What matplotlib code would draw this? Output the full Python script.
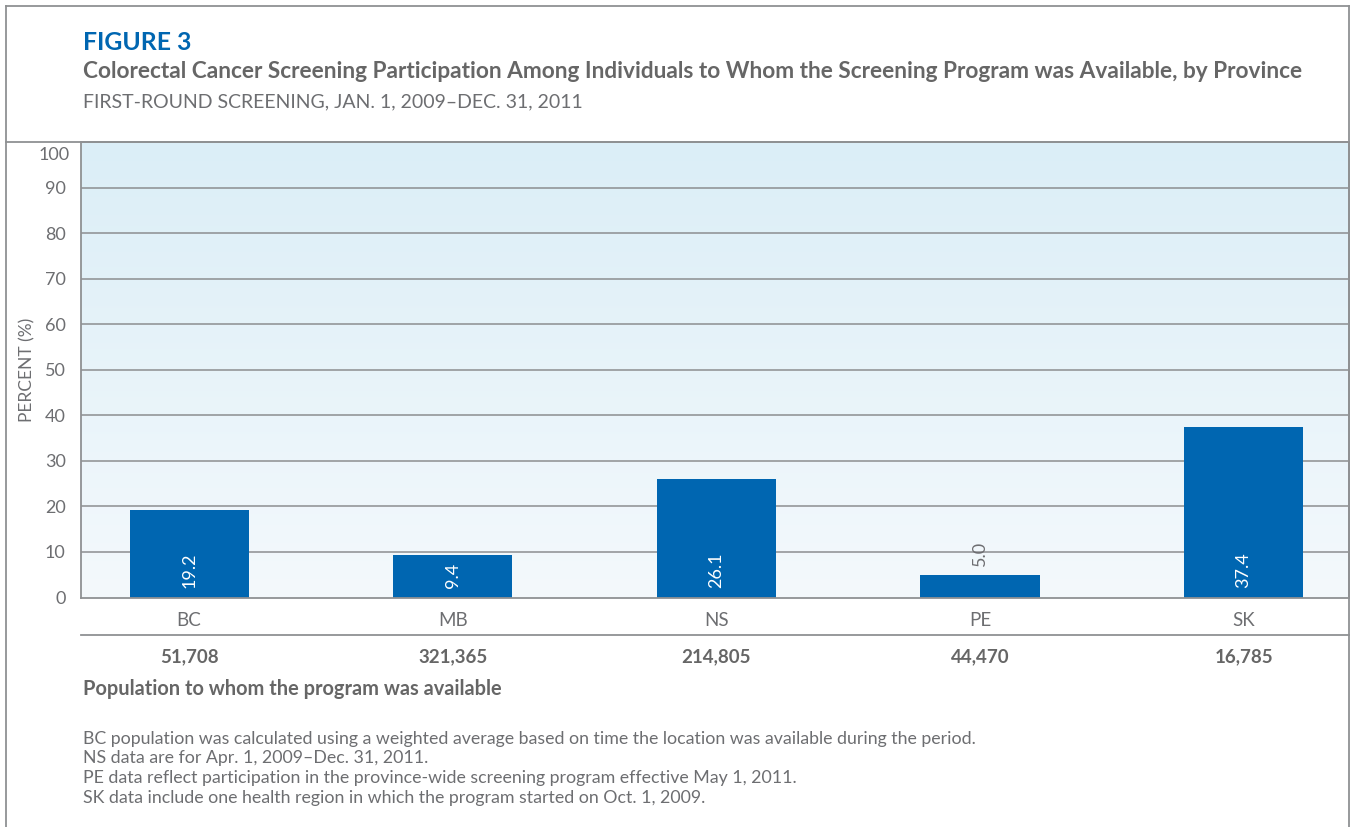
import numpy as np
import matplotlib.pyplot as plt
from matplotlib.lines import Line2D

# 資料
provinces = ['BC', 'MB', 'NS', 'PE', 'SK']
participation = [19.2, 9.4, 26.1, 5.0, 37.4]
population = ['51,708', '321,365', '214,805', '44,470', '16,785']
y_ticks = [0, 10, 20, 30, 40, 50, 60, 70, 80, 90, 100]
notes = [
    'BC population was calculated using a weighted average based on time the location was available during the period.',
    'NS data are for Apr. 1, 2009\u2013Dec. 31, 2011.',
    'PE data reflect participation in the province-wide screening program effective May 1, 2011.',
    'SK data include one health region in which the program started on Oct. 1, 2009.',
]

W, H = 1351, 827
plt.rcParams['font.family'] = ['Lato', 'DejaVu Sans']

BLUE = '#0066b1'
GRAY = '#6d6e71'
LINE = '#8f9193'


def fx(x):
    return x / W


def fy(y):
    return 1 - y / H


fig = plt.figure(figsize=(W / 100, H / 100), dpi=100)

# 外框與分隔線
for xs, ys in [((6, 6), (6, H)), ((6, 1349), (6, 6)), ((1349, 1349), (6, H)),
               ((6, 1349), (142, 142)), ((81, 1349), (635, 635))]:
    fig.add_artist(Line2D([fx(x) for x in xs], [fy(y) for y in ys],
                          color=LINE, lw=1.3))

# 標題
fig.text(fx(83), fy(42), 'FIGURE 3', color=BLUE, fontsize=17.8, fontweight='bold', va='center')
fig.text(fx(83), fy(72), 'Colorectal Cancer Screening Participation Among Individuals to Whom the '
         'Screening Program was Available, by Province',
         color='#666666', fontsize=16.3, fontweight='bold', va='center')
fig.text(fx(83), fy(102), 'FIRST-ROUND SCREENING, JAN. 1, 2009\u2013DEC. 31, 2011',
         color=GRAY, fontsize=14, va='center')

# 主圖
ax = fig.add_axes([fx(81), fy(597.5), fx(1349) - fx(81), (597.5 - 142) / H])
x = np.arange(len(provinces))
ax.set_xlim(-0.41, 4.4)
ax.set_ylim(0, 100)

grad = np.linspace(0, 1, 256).reshape(-1, 1)
top = np.array([219, 238, 247]) / 255
bottom = np.array([244, 249, 252]) / 255
img = bottom + (top - bottom) * grad
ax.imshow(img[::-1].reshape(256, 1, 3), extent=[-0.41, 4.4, 0, 100], aspect='auto',
          origin='upper', zorder=0)

for t in y_ticks[1:-1]:
    ax.axhline(t, color='#8c8e90', lw=1.1, zorder=1)

ax.bar(x, participation, width=0.452, color=BLUE, zorder=2)

for xi, v in zip(x, participation):
    if v > 8:
        ax.text(xi, 2, f'{v:.1f}', rotation=90, ha='center', va='bottom',
                color='white', fontsize=13, zorder=3)
    else:
        ax.text(xi, v + 2, f'{v:.1f}', rotation=90, ha='center', va='bottom',
                color=GRAY, fontsize=13, zorder=3)

# 100 的刻度標籤往下移，其餘照常
ax.set_yticks(y_ticks)
ax.set_yticklabels([str(t) for t in y_ticks[:-1]] + [''], fontsize=13, color=GRAY)
ax.annotate(str(y_ticks[-1]), xy=(0, y_ticks[-1]), xycoords=('axes fraction', 'data'),
            xytext=(-11, -13), textcoords='offset pixels', ha='right', va='center',
            fontsize=13, color=GRAY)
ax.tick_params(axis='y', length=0, pad=11)
ax.set_xticks([])
for s in ax.spines.values():
    s.set_color(LINE)
    s.set_linewidth(1.3)

fig.text(fx(27), fy(370), 'PERCENT (%)', rotation=90, ha='center', va='center',
         color=GRAY, fontsize=12.5)

# 類別與人口
for xi, p, n in zip(x, provinces, population):
    xf = fx(81) + (xi + 0.41) / 4.81 * (fx(1349) - fx(81))
    fig.text(xf, fy(620), p, ha='center', va='center', color=GRAY, fontsize=13.5)
    fig.text(xf, fy(657), n, ha='center', va='center', color='#666666',
             fontsize=13.5, fontweight='bold')

fig.text(fx(83), fy(689), 'Population to whom the program was available',
         color='#666666', fontsize=14.4, fontweight='bold', va='center')

for i, line in enumerate(notes):
    fig.text(fx(83), fy(739 + i * 19.5), line, color=GRAY, fontsize=12.8, va='center')

fig.savefig('out.png', dpi=100)
